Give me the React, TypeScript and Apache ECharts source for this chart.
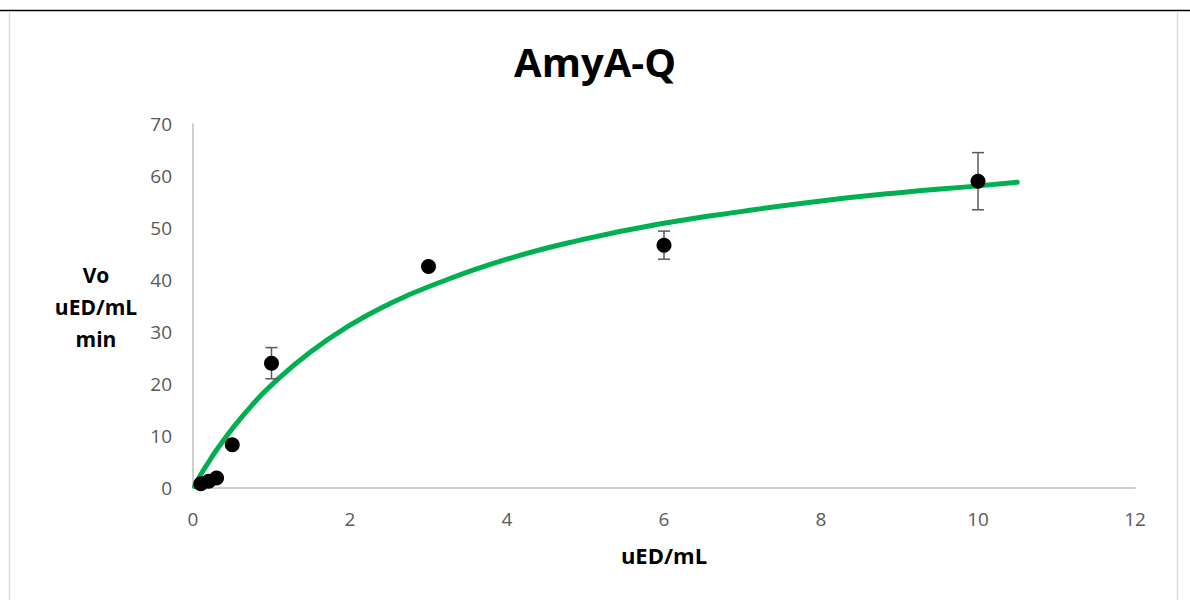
import React, { useEffect, useRef } from "react";
import * as echarts from "echarts";

const substrateX = [0.1, 0.2, 0.3, 0.5, 1, 3, 6, 10];
const velocityY = [0.8, 1.3, 1.9, 8.3, 24.0, 42.6, 46.7, 59.0];
const velocityErr = [0, 0, 0, 0, 3.0, 0, 2.7, 5.5];

const fitX = [0.02, 0.1, 0.2, 0.3, 0.5, 0.75, 1, 1.5, 2, 2.5, 3, 4, 5, 6, 7, 8, 9, 10, 10.5];
const fitY = [0.3, 2.6, 5.0, 7.3, 11.4, 15.9, 19.8, 26.2, 31.3, 35.4, 38.7, 44.0, 47.9, 50.9, 53.2, 55.2, 56.8, 58.1, 58.8];

const xTicks = { min: 0, max: 12, interval: 2 };
const yTicks = { min: 0, max: 70, interval: 10 };

const FONT = "'Open Sans', 'Noto Sans', sans-serif";

export default function App() {
  const ref = useRef<HTMLDivElement>(null);
  useEffect(() => {
    if (!ref.current) return;
    const chart = echarts.init(ref.current, null, { renderer: "svg" });
    const points = substrateX.map((x, i) => [x, velocityY[i]]);
    const errData = substrateX.map((x, i) => [x, velocityY[i] - velocityErr[i], velocityY[i] + velocityErr[i], velocityErr[i]]);
    const fit = fitX.map((x, i) => [x, fitY[i]]);
    chart.setOption({
      animation: false,
      backgroundColor: "#ffffff",
      title: {
        text: "AmyA-Q",
        left: "center",
        top: 36,
        textStyle: { fontFamily: FONT, fontSize: 40, fontWeight: "bold", color: "#000000" },
      },
      grid: { left: 193, right: 55, top: 124, bottom: 112 },
      xAxis: {
        type: "value",
        min: xTicks.min,
        max: xTicks.max,
        interval: xTicks.interval,
        name: "uED/mL",
        nameLocation: "middle",
        nameGap: 56,
        nameTextStyle: { fontFamily: FONT, fontSize: 22, fontWeight: "bold", color: "#000000" },
        axisLine: { lineStyle: { color: "#bfbfbf", width: 1.5 } },
        axisTick: { show: false },
        splitLine: { show: false },
        axisLabel: { fontFamily: FONT, fontSize: 19, color: "#595959", margin: 21 },
      },
      yAxis: {
        type: "value",
        min: yTicks.min,
        max: yTicks.max,
        interval: yTicks.interval,
        axisLine: { show: true, lineStyle: { color: "#bfbfbf", width: 1.5 } },
        axisTick: { show: false },
        splitLine: { show: false },
        axisLabel: { fontFamily: FONT, fontSize: 19, color: "#595959", margin: 21 },
      },
      graphic: [
        {
          type: "line",
          shape: { x1: 0, y1: 10.5, x2: 1190, y2: 10.5 },
          style: { stroke: "#000000", lineWidth: 1.5 },
        },
        {
          type: "line",
          shape: { x1: 9.5, y1: 11, x2: 9.5, y2: 600 },
          style: { stroke: "#d9d9d9", lineWidth: 1.5 },
        },
        {
          type: "line",
          shape: { x1: 1177.5, y1: 11, x2: 1177.5, y2: 600 },
          style: { stroke: "#d9d9d9", lineWidth: 1.5 },
        },
        {
          type: "text",
          x: 96,
          y: 307,
          style: {
            text: "Vo\nuED/mL\nmin",
            fontFamily: FONT,
            fontSize: 21,
            fontWeight: "bold",
            fill: "#000000",
            align: "center",
            verticalAlign: "middle",
            lineHeight: 32,
          },
        },
      ],
      series: [
        {
          type: "line",
          data: fit,
          smooth: true,
          showSymbol: false,
          lineStyle: { color: "#00b050", width: 5, cap: "round" },
          z: 2,
        },
        {
          type: "custom",
          data: errData,
          z: 3,
          renderItem: (params: any, api: any) => {
            const err = api.value(3);
            if (!err) return { type: "group", children: [] };
            const x = api.value(0);
            const lo = api.coord([x, api.value(1)]);
            const hi = api.coord([x, api.value(2)]);
            const cap = 6;
            const style = { stroke: "#595959", lineWidth: 1.5 };
            return {
              type: "group",
              children: [
                { type: "line", shape: { x1: lo[0], y1: lo[1], x2: hi[0], y2: hi[1] }, style },
                { type: "line", shape: { x1: lo[0] - cap, y1: lo[1], x2: lo[0] + cap, y2: lo[1] }, style },
                { type: "line", shape: { x1: hi[0] - cap, y1: hi[1], x2: hi[0] + cap, y2: hi[1] }, style },
              ],
            };
          },
        },
        {
          type: "scatter",
          data: points,
          symbol: "circle",
          symbolSize: 15,
          itemStyle: { color: "#000000", opacity: 1 },
          z: 4,
        },
      ],
    });
    return () => chart.dispose();
  }, []);
  return <div ref={ref} style={{ position: "fixed", left: 0, top: 0, width: 1190, height: 600 }} />;
}
